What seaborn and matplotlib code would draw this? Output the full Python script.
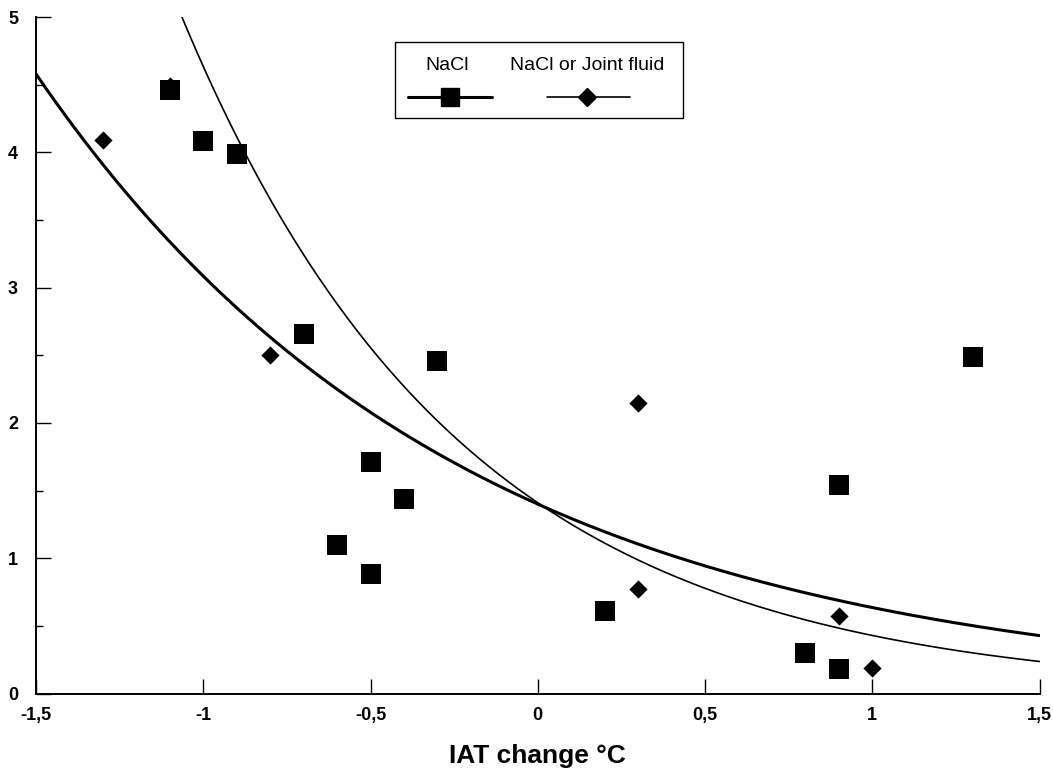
import numpy as np
import pandas as pd
import matplotlib
matplotlib.use("Agg")
import matplotlib.pyplot as plt
import seaborn as sns
from matplotlib.lines import Line2D
from matplotlib.patches import Rectangle
from matplotlib.ticker import FixedLocator, MultipleLocator

# NaCl injections: IAT change (deg C) vs. response
nacl_iat = [-1.1, -1.0, -0.9, -0.7, -0.6, -0.5, -0.5, -0.4, -0.3, 0.2, 0.8, 0.9, 0.9, 1.3]
nacl_val = [4.46, 4.08, 3.99, 2.66, 1.10, 1.71, 0.88, 1.44, 2.46, 0.61, 0.30, 0.18, 1.54, 2.49]

# NaCl or joint fluid injections
joint_iat = [-1.3, -1.1, -0.8, 0.3, 0.3, 0.9, 1.0]
joint_val = [4.09, 4.49, 2.50, 2.15, 0.77, 0.57, 0.19]

# Exponential fit coefficients, y = a * exp(-b * x)
nacl_fit = (1.40, 0.79)
joint_fit = (1.41, 1.19)

xticks = [-1.5, -1.0, -0.5, 0.0, 0.5, 1.0, 1.5]
xtick_labels = ["-1,5", "-1", "-0,5", "0", "0,5", "1", "1,5"]
yticks = [0, 1, 2, 3, 4, 5]
ytick_labels = ["0", "1", "2", "3", "4", "5"]

W, H = 1053, 769
sns.set_theme(style="white")
plt.rcParams["font.family"] = ["Liberation Sans", "DejaVu Sans"]
for key in ("text.color", "axes.labelcolor", "xtick.color", "ytick.color", "axes.edgecolor"):
    plt.rcParams[key] = "black"

fig = plt.figure(figsize=(W / 100, H / 100), dpi=100)
ax = fig.add_axes([36 / W, 1 - 693.5 / H, (1039.5 - 36) / W, (693.5 - 17) / H])

# fitted curves
grid = np.linspace(xticks[0], xticks[-1], 400)
fits = pd.DataFrame({
    "x": grid,
    "nacl": nacl_fit[0] * np.exp(-nacl_fit[1] * grid),
    "joint": joint_fit[0] * np.exp(-joint_fit[1] * grid),
})
sns.lineplot(data=fits, x="x", y="nacl", color="black", linewidth=2.2, ax=ax)
sns.lineplot(data=fits, x="x", y="joint", color="black", linewidth=1.2, ax=ax)

# observations
joint_df = pd.DataFrame({"iat": joint_iat, "val": joint_val})
nacl_df = pd.DataFrame({"iat": nacl_iat, "val": nacl_val})
sns.scatterplot(data=joint_df, x="iat", y="val", marker="D", s=86, color="black",
                linewidth=0, ax=ax, zorder=3)
sns.scatterplot(data=nacl_df, x="iat", y="val", marker="s", s=188, color="black",
                linewidth=0, ax=ax, zorder=4)

ax.set_xlim(xticks[0], xticks[-1])
ax.set_ylim(yticks[0], yticks[-1])
for side in ("top", "right"):
    ax.spines[side].set_visible(False)
for side in ("left", "bottom"):
    ax.spines[side].set_color("black")
    ax.spines[side].set_linewidth(1.4)

ax.xaxis.set_major_locator(FixedLocator(xticks))
ax.set_xticklabels(xtick_labels, fontweight="bold", fontsize=13, color="black")
ax.yaxis.set_major_locator(FixedLocator(yticks))
ax.set_yticklabels(ytick_labels, fontweight="bold", fontsize=13, color="black")
ax.yaxis.set_minor_locator(MultipleLocator(0.5))
ax.tick_params(axis="x", which="major", direction="in", length=10.5, width=1.0,
               color="black", pad=9.5, bottom=True)
ax.tick_params(axis="y", which="major", direction="in", length=10.5, width=1.0,
               color="black", pad=13, left=True)
ax.tick_params(axis="y", which="minor", direction="in", length=5, width=1.0,
               color="black", left=True)

ax.set_ylabel("")
ax.set_xlabel("IAT change °C", fontsize=19, fontweight="bold", color="black")
ax.xaxis.label.set_va("baseline")
ax.xaxis.set_label_coords((537 - 36) / (1039.5 - 36), -(763 - 693.5) / (693.5 - 17))


def fx(px):
    return px / W


def fy(py):
    return 1 - py / H


# legend box with labels above the line samples
fig.patches.append(Rectangle((fx(395), fy(118)), fx(683) - fx(395), fy(42) - fy(118),
                             transform=fig.transFigure, fill=False,
                             edgecolor="black", linewidth=1.0))
fig.text(fx(447), fy(65), "NaCl", ha="center", va="center", fontsize=14, color="black")
fig.text(fx(587), fy(65), "NaCl or Joint fluid", ha="center", va="center", fontsize=14,
         color="black")
fig.lines.append(Line2D([fx(408), fx(492)], [fy(97), fy(97)], transform=fig.transFigure,
                        color="black", linewidth=2.2))
fig.lines.append(Line2D([fx(450)], [fy(97)], transform=fig.transFigure, marker="s",
                        markersize=13, color="black", linewidth=0))
fig.lines.append(Line2D([fx(547), fx(630)], [fy(97), fy(97)], transform=fig.transFigure,
                        color="black", linewidth=1.2))
fig.lines.append(Line2D([fx(587)], [fy(97)], transform=fig.transFigure, marker="D",
                        markersize=9, color="black", linewidth=0))

fig.savefig("out.png", dpi=100)
